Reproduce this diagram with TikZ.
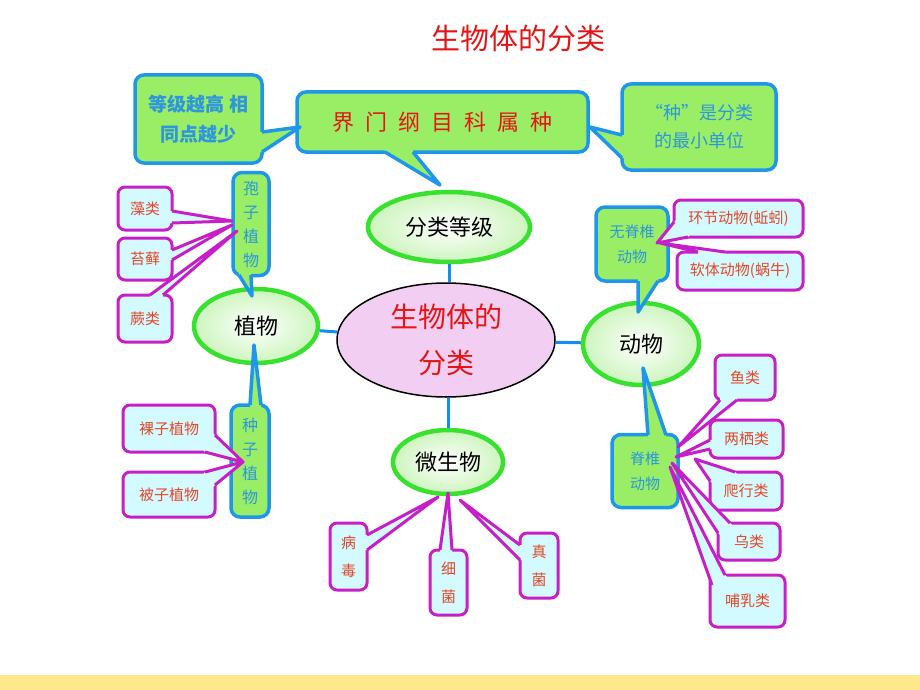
\documentclass[tikz,border=0pt]{standalone}
\usepackage{fontspec}
\setmainfont{Noto Sans CJK SC}
\usetikzlibrary{shapes.geometric,calc}
\definecolor{bgreen}{RGB}{153,238,102}
\definecolor{bblue}{RGB}{30,150,235}
\definecolor{mag}{RGB}{200,30,200}
\definecolor{cyanf}{RGB}{210,250,255}
\definecolor{redt}{RGB}{232,70,40}
\definecolor{titred}{RGB}{230,20,20}
\definecolor{bluet}{RGB}{45,150,220}
\definecolor{egreen}{RGB}{55,225,45}
\definecolor{eouter}{RGB}{205,245,190}
\definecolor{pinkf}{RGB}{242,206,242}
\definecolor{linkb}{RGB}{20,140,245}
\definecolor{strip}{RGB}{255,232,140}
\newcommand{\ctail}[6]{%
  \fill[#1] (#3) -- (#4) -- (#5) -- ($(#5)+(#6)$) -- ($(#3)+(#6)$) -- cycle;
  \draw[#2, line join=round] (#3) -- (#4) -- (#5);}
\tikzset{
  gbox/.style={draw=bblue, fill=bgreen, line width=3.5pt, rounded corners=9pt, inner sep=0pt, text=bluet},
  pbox/.style={draw=mag, fill=cyanf, line width=3pt, rounded corners=7pt, inner sep=0pt, text=redt, align=center, font=\fontsize{15}{28}\selectfont},
  oval/.style={ellipse, draw=egreen, line width=4.5pt, inner color=white, outer color=eouter, inner sep=0pt, font=\fontsize{22}{24}\selectfont},
  link/.style={draw=linkb, line width=3pt},
  gfill/.style={fill=bgreen},
  gline/.style={draw=bblue, line width=3.5pt},
  pfill/.style={fill=cyanf},
  pline/.style={draw=mag, line width=3pt},
}
\begin{document}
\begin{tikzpicture}[x=1pt,y=-1pt]
\useasboundingbox (0,0) rectangle (920,690);
\fill[strip] (0,675) rectangle (920,690);
\node[text=titred, font=\fontsize{29}{32}\selectfont] (ttl) at (518,38) {生物体的分类};

% ellipses
\node[oval, minimum width=162pt, minimum height=70pt] (fl) at (449,227) {分类等级};
\node[ellipse, draw=black, line width=1.5pt, fill=pinkf, minimum width=218pt, minimum height=114pt, inner sep=0pt, text=titred, align=center, font=\fontsize{28}{46}\selectfont] (cen) at (446,340) {生物体的\\分类};
\node[oval, minimum width=124pt, minimum height=74pt] (zw) at (256,326) {植物};
\node[oval, minimum width=116pt, minimum height=82pt] (dw) at (641,344) {动物};
\node[oval, minimum width=110pt, minimum height=64pt] (ws) at (448,462) {微生物};

% links
\draw[link] (fl.south) -- (fl.south |- cen.north);
\draw[link] (ws.north) -- (ws.north |- cen.south);
\draw[link] (zw) -- (cen);
\draw[link] (cen) -- (dw);

% top callouts
\node[gbox, minimum width=291pt, minimum height=60pt, text=titred, font=\fontsize{22}{24}\selectfont] (tb) at (442.5,122)
  {界\hspace{11pt}门\hspace{11pt}纲\hspace{11pt}目\hspace{11pt}科\hspace{11pt}属\hspace{11pt}种};
\ctail{gfill}{gline}{385,152}{440,185}{413,152}{0,-6}
\node[gbox, minimum width=127pt, minimum height=88pt, align=center, font=\fontsize{19}{30}\selectfont\bfseries] (lc) at (198.5,119)
  {等级越高 相\\同点越少};
\ctail{gfill}{gline}{262,132}{300,127}{262,152}{-6,0}
\node[gbox, minimum width=154pt, minimum height=86pt, align=center, font=\fontsize{18}{28}\selectfont] (rc) at (699,127)
  {“种”是分类\\的最小单位};
\ctail{gfill}{gline}{622,135}{590,127}{622,158}{6,0}

% blue boxes
\node[gbox, minimum width=36pt, minimum height=103pt, align=center, font=\fontsize{16}{24}\selectfont] (bz) at (251,224) {孢\\子\\植\\物};
\ctail{gfill}{gline}{239,275}{252,296}{251,275}{0,-6}
\node[gbox, minimum width=38pt, minimum height=112pt, align=center, font=\fontsize{16}{24}\selectfont] (zz) at (250,461) {种\\子\\植\\物};
\ctail{gfill}{gline}{250,405}{254,345}{261,405}{0,6}
\node[gbox, minimum width=72pt, minimum height=74pt, align=center, font=\fontsize{15}{25}\selectfont] (wj) at (632,244) {无脊椎\\动物};
\ctail{gfill}{gline}{638,281}{638,312}{658,281}{0,-6}
\node[gbox, minimum width=66pt, minimum height=73pt, align=center, font=\fontsize{15}{25}\selectfont] (jz) at (645,471) {脊椎\\动物};
\ctail{gfill}{gline}{648,435}{643,368}{666,435}{0,6}

% pink boxes
\node[pbox, minimum width=54pt, minimum height=43pt] (zl) at (145,208.5) {藻类};
\ctail{pfill}{pline}{172,211}{232,221}{172,223}{-5,0}
\node[pbox, minimum width=54pt, minimum height=42pt] (tx) at (145,259) {苔藓};
\ctail{pfill}{pline}{172,250}{232,225}{172,260}{-5,0}
\node[pbox, minimum width=54pt, minimum height=47pt] (jl) at (145,318.5) {蕨类};
\ctail{pfill}{pline}{150,295}{237,231}{163,295}{0,5}
\node[pbox, minimum width=92pt, minimum height=47pt] (lz) at (169,428.5) {裸子植物};
\ctail{pfill}{pline}{215,435}{243,462}{205,452}{-4,-4}
\node[pbox, minimum width=92pt, minimum height=45pt] (bzz) at (169,494.5) {被子植物};
\ctail{pfill}{pline}{205,472}{243,462}{215,485}{-4,4}
\node[pbox, minimum width=129pt, minimum height=37pt] (hj) at (738.5,218.5) {环节动物(蚯蚓)};
\ctail{pfill}{pline}{674,222}{657,243}{688,237}{4,-4}
\node[pbox, minimum width=126pt, minimum height=38pt] (rt) at (740,271) {软体动物(蜗牛)};
\ctail{pfill}{pline}{698,252}{660,243}{725,252}{0,5}
\node[pbox, minimum width=60pt, minimum height=45pt] (yl) at (745,377.5) {鱼类};
\ctail{pfill}{pline}{720,400}{678,447}{737,400}{0,-5}
\node[pbox, minimum width=73pt, minimum height=38pt] (lq) at (746.5,439) {两栖类};
\ctail{pfill}{pline}{710,440}{676,457}{710,449}{5,0}
\node[pbox, minimum width=72pt, minimum height=38pt] (px) at (746,491) {爬行类};
\ctail{pfill}{pline}{710,481}{695,459}{735,472}{4,4}
\node[pbox, minimum width=62pt, minimum height=37pt] (nl) at (749,541.5) {乌类};
\ctail{pfill}{pline}{718,533}{672,463}{730,523}{4,4}
\node[pbox, minimum width=75pt, minimum height=52pt] (br) at (747.5,601) {哺乳类};
\ctail{pfill}{pline}{712,585}{670,467}{725,575}{4,4}
\node[pbox, minimum width=37pt, minimum height=67pt] (bd) at (348.5,556.5) {病\\毒};
\ctail{pfill}{pline}{367,535}{438,497}{367,550}{-5,0}
\node[pbox, minimum width=37pt, minimum height=65pt] (xj) at (448.5,582.5) {细\\菌};
\ctail{pfill}{pline}{440,550}{448,493}{452,550}{0,5}
\node[pbox, minimum width=38pt, minimum height=65pt] (zj) at (539,565.5) {真\\菌};
\ctail{pfill}{pline}{520,545}{460,500}{520,560}{5,0}
\end{tikzpicture}
\end{document}
